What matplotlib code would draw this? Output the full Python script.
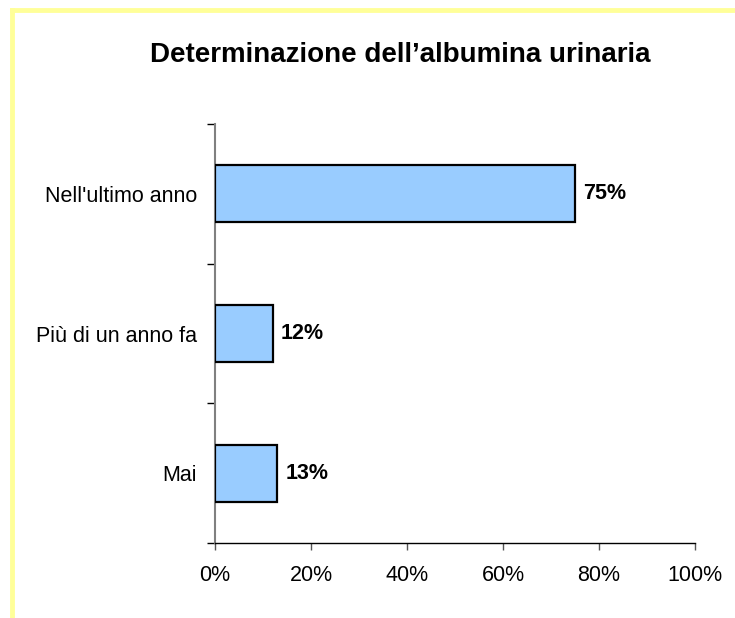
import matplotlib
matplotlib.use("Agg")
import matplotlib.pyplot as plt
from matplotlib.lines import Line2D

categories = ["Nell'ultimo anno", "Più di un anno fa", "Mai"]
values = [75, 12, 13]
xticks = [0, 20, 40, 60, 80, 100]
xtick_labels = ["0%", "20%", "40%", "60%", "80%", "100%"]
title = "Determinazione dell\u2019albumina urinaria"

plt.rcParams['font.family'] = ['Liberation Sans', 'DejaVu Sans']

fig = plt.figure(figsize=(7.35, 6.18), dpi=100)
ax = fig.add_axes([215/735, 1-543/618, 480/735, 419/618])

ypos = list(range(len(categories)))
ax.barh(ypos, values, height=0.41, color="#99CCFF", edgecolor="black", linewidth=1.6, zorder=3)
for y, v in zip(ypos, values):
    ax.annotate(f"{v}%", xy=(v, y), xytext=(6, 0), textcoords="offset points",
                va="center", ha="left", fontsize=15.5, fontweight="bold")

ax.set_xlim(0, 100)
ax.set_ylim(len(categories) - 0.5, -0.5)
ax.set_xticks(xticks)
ax.set_xticklabels(xtick_labels, fontsize=15.5)
ax.set_yticks(ypos)
ax.set_yticklabels(categories, fontsize=15.5)
ax.tick_params(axis='y', length=0, pad=13)
ax.set_yticks([i - 0.5 for i in range(len(categories) + 1)], minor=True)
ax.tick_params(axis='y', which='minor', length=6, width=1, color='black')
ax.tick_params(axis='x', length=5, width=1, pad=11, color='#555555')

for s in ['top', 'right']:
    ax.spines[s].set_visible(False)
ax.spines['left'].set_color('#808080')
ax.spines['left'].set_linewidth(1.5)
ax.spines['bottom'].set_color('black')
ax.spines['bottom'].set_linewidth(1)

fig.text(400/735, 1-55/618, title, ha="center", va="center", fontsize=20, fontweight="bold")

# yellow frame (top and left)
fig.add_artist(Line2D([12/735, 1], [1-10/618, 1-10/618], color="#FFFF99", linewidth=3.5, transform=fig.transFigure))
fig.add_artist(Line2D([12/735, 12/735], [0, 1-10/618], color="#FFFF99", linewidth=3.5, transform=fig.transFigure))

fig.savefig("out.png", dpi=100)
